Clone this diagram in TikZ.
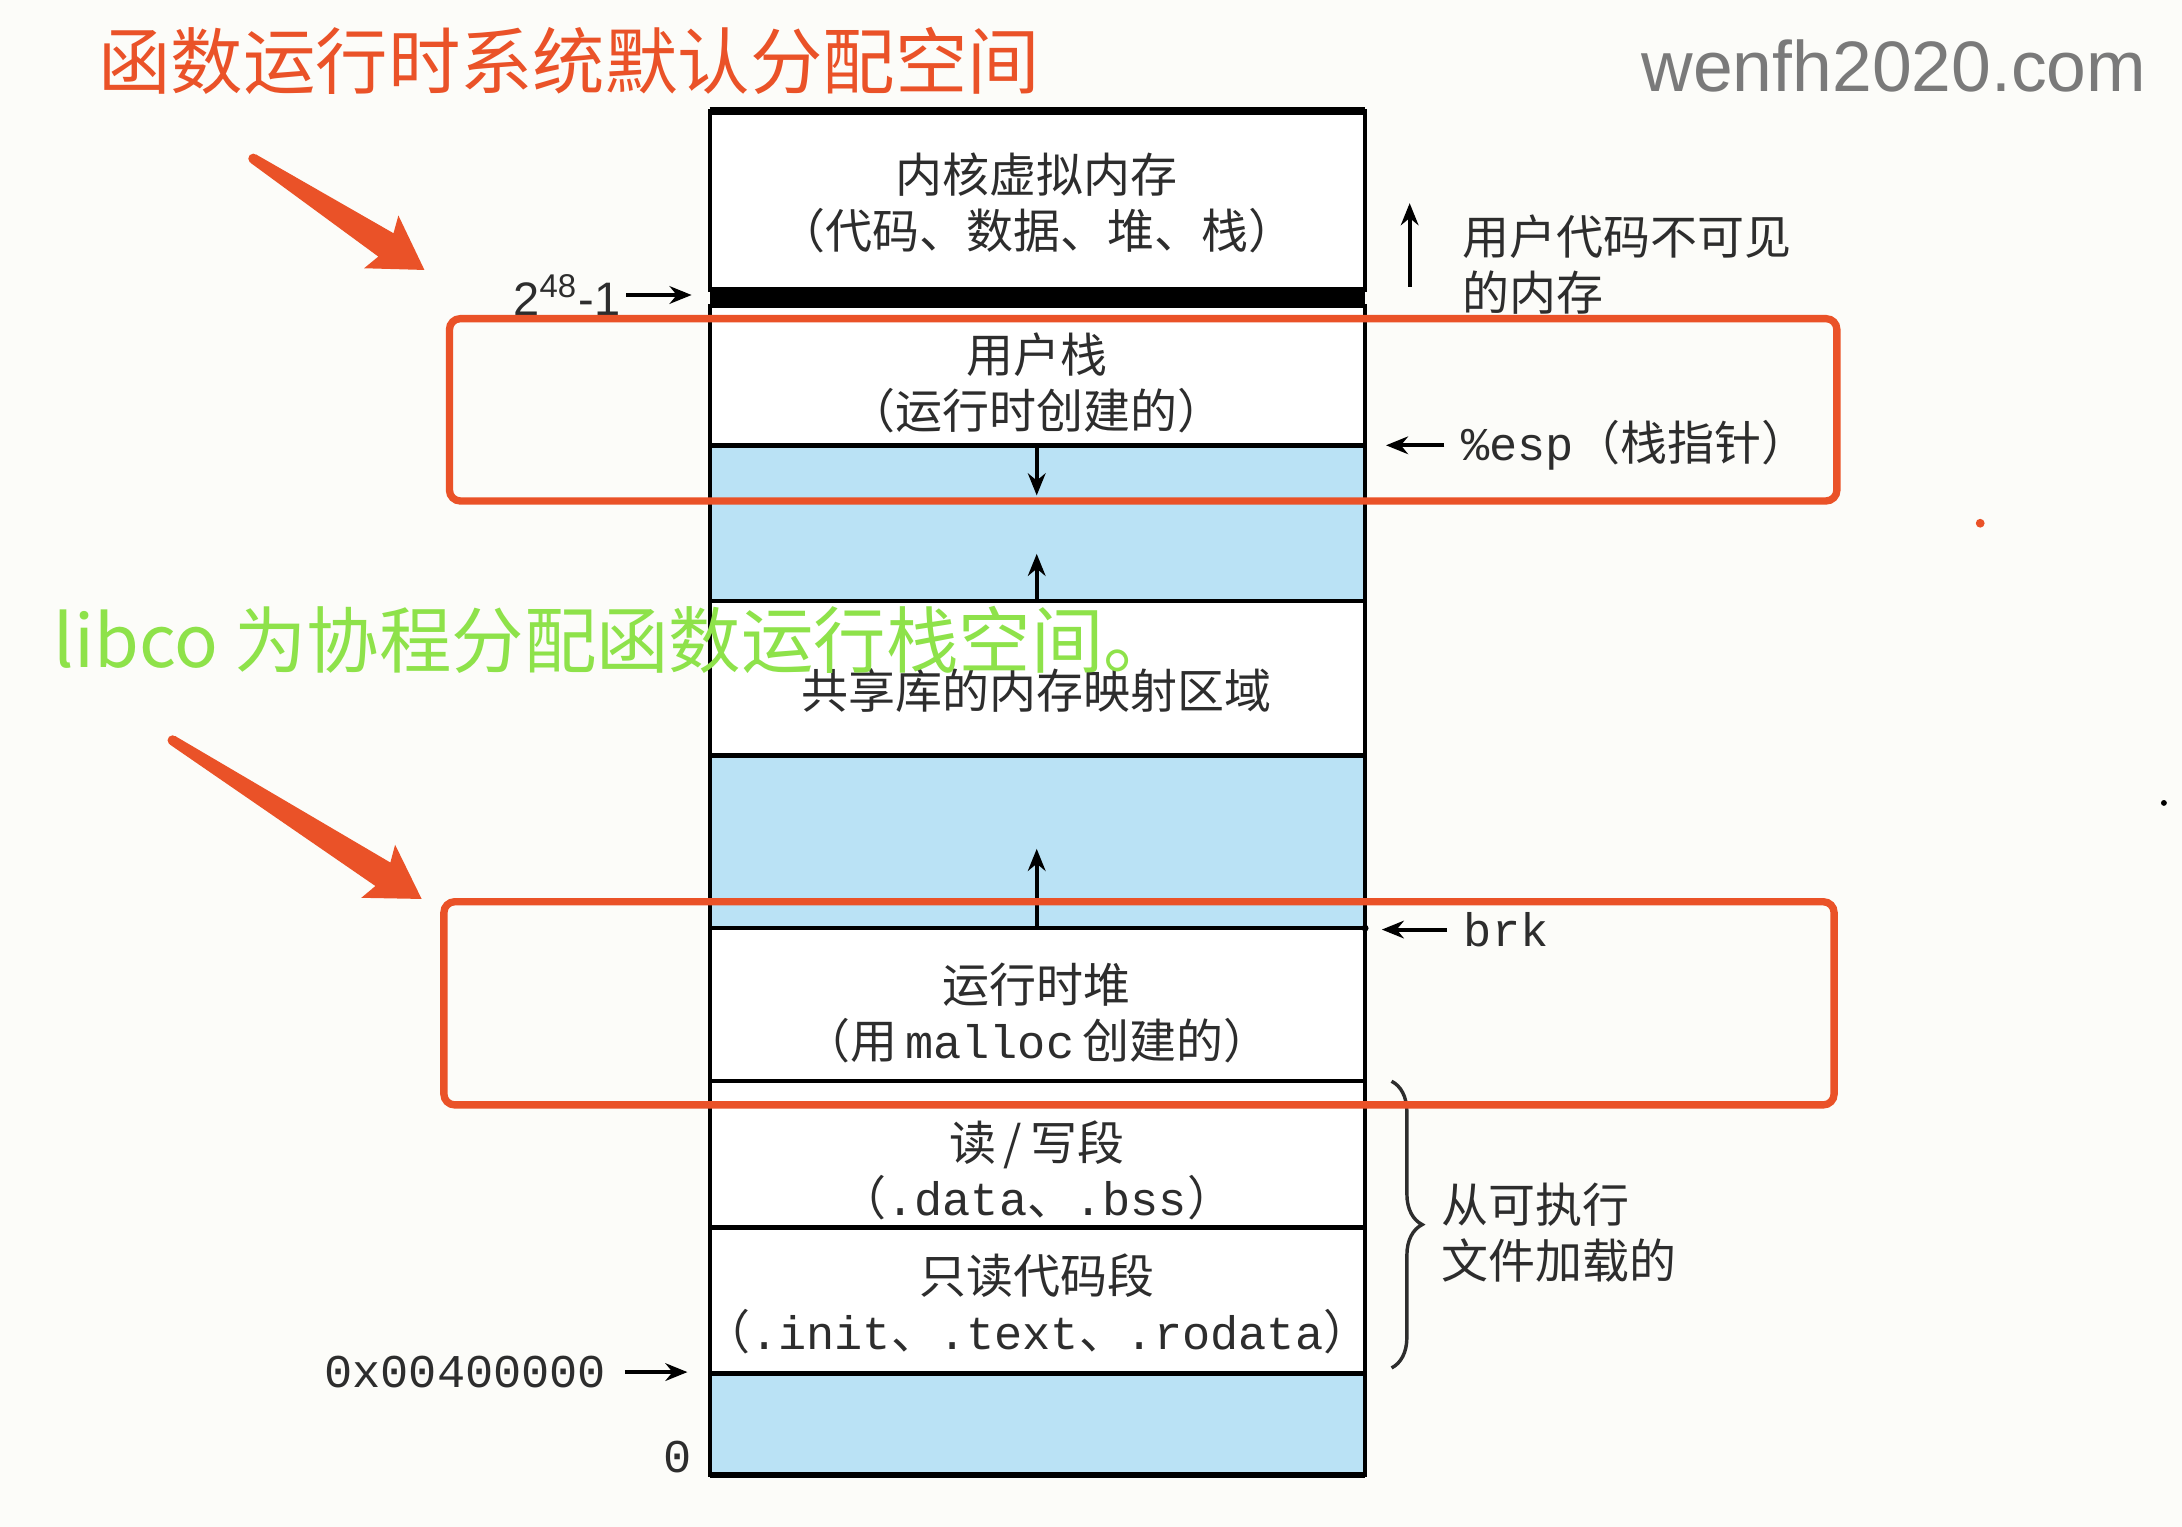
\documentclass[tikz,border=0pt]{standalone}
\usepackage{fontspec}
\setmainfont{Noto Sans CJK SC}
\newfontfamily\codefont{Liberation Mono}
\newfontfamily\webfont{Liberation Sans}
\usetikzlibrary{calc,arrows.meta,decorations.pathreplacing}
\definecolor{hotred}{RGB}{234,82,40}
\definecolor{libgreen}{RGB}{142,226,74}
\definecolor{skyfill}{RGB}{186,226,245}
\definecolor{inkgray}{RGB}{45,45,45}
\definecolor{paperbg}{RGB}{252,252,249}
\definecolor{sitegray}{RGB}{122,122,122}

\begin{document}
\begin{tikzpicture}[x=0.01cm,y=-0.01cm,
  segline/.style={draw=black,line width=0.9pt},
  txt/.style={font=\fontsize{9.6}{11.4}\selectfont,text=inkgray,align=center,inner sep=0pt},
  codelbl/.style={font=\codefont\fontsize{9.6}{11.4}\selectfont,text=inkgray},
  ptr/.style={-{Stealth[length=4.5pt,width=3.6pt]},line width=0.8pt,draw=black},
  hotbox/.style={draw=hotred,line width=1.5pt,rounded corners=2.2pt},
  bigtxt/.style={font=\fontsize{14.8}{16}\selectfont,anchor=west,inner sep=0pt}]
  \newcommand{\memseg}[4]{%
    \draw[segline,fill=#4] (510,#2) rectangle (981,#3);
    \coordinate (#1-tl) at (510,#2);
    \coordinate (#1-tr) at (981,#2);
    \coordinate (#1-bl) at (510,#3);
    \coordinate (#1-br) at (981,#3);
    \coordinate (#1-t) at (745,#2);
    \coordinate (#1-b) at (745,#3);
  }
  \newcommand{\fatarrow}[3]{%
    \coordinate (#3-neck) at ($(#2)!0.33cm!(#1)$);
    \coordinate (#3-base) at ($(#2)!0.37cm!(#1)$);
    \fill[hotred] ($(#1)!0.036cm!90:(#2)$)
      -- ($(#3-neck)!0.1cm!90:(#2)$)
      -- ($(#3-base)!0.226cm!90:(#2)$)
      -- (#2)
      -- ($(#3-base)!0.226cm!-90:(#2)$)
      -- ($(#3-neck)!0.1cm!-90:(#2)$)
      -- ($(#1)!0.036cm!-90:(#2)$) -- cycle;
    \fill[hotred] (#1) circle (0.036cm);
  }
  \fill[paperbg] (0,0) rectangle (1568,1097);
  \useasboundingbox (0,0) rectangle (1568,1097);

  \foreach \nm/\ya/\yb/\col in {kern/80/208/white,ustack/220/320/white,
      blueA/320/432/skyfill,shlib/432/543/white,blueB/543/667/skyfill,
      heap/667/777/white,rwseg/777/882/white,roseg/882/987/white,
      blueC/987/1060/skyfill}
    {\memseg{\nm}{\ya}{\yb}{\col}}
  \draw[line width=1.6pt] (kern-tl) -- (kern-tr);
  \fill (kern-bl) rectangle (ustack-tr);
  \draw[line width=1.4pt] (blueC-bl) -- (blueC-br);

  \node[txt] (kerntxt) at (745,146) {内核虚拟内存\\（代码、数据、堆、栈）};
  \node[txt] (ustacktxt) at (745,275) {用户栈\\（运行时创建的）};
  \node[txt] (shlibtxt) at (745,496) {共享库的内存映射区域};
  \node[txt] (heaptxt) at (745,728) {运行时堆\\（用\,{\codefont malloc}\,创建的）};
  \node[txt] (rwtxt) at (745,841) {读\,/\,写段\\（{\codefont .data}、{\codefont .bss}）};
  \node[txt] (rotxt) at (745,937) {只读代码段\\（{\codefont .init}、{\codefont .text}、{\codefont .rodata}）};

  \coordinate (stkgrow) at (745,356);
  \coordinate (mapgrow) at (745,398);
  \coordinate (heapgrow) at (745,610);
  \draw[ptr] (blueA-t) -- (stkgrow);
  \draw[ptr] (blueA-b) -- (mapgrow);
  \draw[ptr] (blueB-b) -- (heapgrow);

  \node[font=\webfont\fontsize{9.6}{11.4}\selectfont,text=inkgray,anchor=east,inner sep=1pt] (toplbl) at (450,212) {2\textsuperscript{48}-1};
  \coordinate (topaddr) at (497,212);
  \draw[ptr] (toplbl.east) -- (topaddr);
  \node[codelbl,anchor=east,inner sep=3.6pt] (loaddr) at (449,986) {0x00400000};
  \coordinate (loend) at (494,986);
  \draw[ptr] (loaddr.east) -- (loend);
  \node[codelbl,inner sep=0pt] (zero) at (487,1047) {0};

  \coordinate (hidbot) at (1013,206);
  \coordinate (hidtop) at (1013,146);
  \draw[ptr] (hidbot) -- (hidtop);
  \node[txt,align=left,anchor=west] (hidtxt) at (1050,190) {用户代码不可见\\的内存};
  \node[txt,anchor=west,inner sep=3.2pt] (esp) at (1038,320) {{\codefont\%esp}（栈指针）};
  \coordinate (espend) at (996,320);
  \draw[ptr] (esp.west) -- (espend);
  \node[codelbl,anchor=west,inner sep=3.2pt] (brk) at (1040,668) {brk};
  \coordinate (brkend) at (993,668);
  \draw[ptr] (brk.west) -- (brkend);
  \fill (heap-tr) circle (0.7pt);

  \coordinate (ldtop) at (1000,777);
  \coordinate (ldbot) at (1000,983);
  \draw[decorate,decoration={brace,amplitude=0.22cm},line width=0.7pt,inkgray] (ldtop) -- (ldbot);
  \node[txt,align=left,anchor=west] (loadtxt) at (1035,886) {从可执行\\文件加载的};

  \draw[hotbox] (323,229) rectangle (1320,360);
  \draw[hotbox] (319,648) rectangle (1318,794);

  \coordinate (redtailA) at (182,114);
  \coordinate (redtipA) at (305,194);
  \coordinate (redtailB) at (124,532);
  \coordinate (redtipB) at (303,646);
  \fatarrow{redtailA}{redtipA}{ra}
  \fatarrow{redtailB}{redtipB}{rb}

  \node[bigtxt,text=hotred] (title) at (70,44) {函数运行时系统默认分配空间};
  \node[font=\webfont\fontsize{14.6}{16}\selectfont,text=sitegray,anchor=base west,inner sep=0pt] (site) at (1179,66) {wenfh2020.com};
  \node[bigtxt,text=libgreen] (libco) at (38,460) {libco 为协程分配函数运行栈空间。};

  \fill[hotred] (1423,376) circle (0.9pt);
  \fill[black] (1555,577) circle (0.6pt);
\end{tikzpicture}
\end{document}
